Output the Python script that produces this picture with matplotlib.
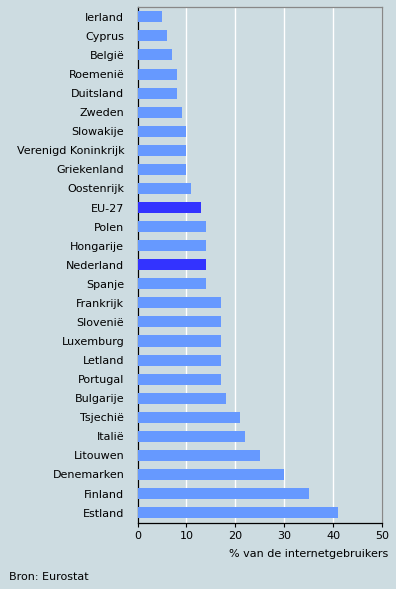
import matplotlib
matplotlib.use("Agg")
import matplotlib.pyplot as plt

# Internetgebruikers per land (% van de internetgebruikers)
landen = [
    "Ierland", "Cyprus", "België", "Roemenië", "Duitsland", "Zweden",
    "Slowakije", "Verenigd Koninkrijk", "Griekenland", "Oostenrijk", "EU-27",
    "Polen", "Hongarije", "Nederland", "Spanje", "Frankrijk", "Slovenië",
    "Luxemburg", "Letland", "Portugal", "Bulgarije", "Tsjechië", "Italië",
    "Litouwen", "Denemarken", "Finland", "Estland",
]
waarden = [5, 6, 7, 8, 8, 9, 10, 10, 10, 11, 13, 14, 14, 14, 14,
           17, 17, 17, 17, 17, 18, 21, 22, 25, 30, 35, 41]
uitgelicht = ["EU-27", "Nederland"]
x_ticks = [0, 10, 20, 30, 40, 50]

BG = "#CDDCE1"
BAR = "#6699FF"
BAR_HL = "#3333FF"
FS = 8.0

plt.rcParams["font.family"] = ["DejaVu Sans"]

fig = plt.figure(figsize=(3.96, 5.89), dpi=100)
fig.patch.set_facecolor(BG)
W, H = 396, 589
ax = fig.add_axes([137.5 / W, 1 - 522.7 / H, (382 - 137.5) / W, (522.7 - 7.3) / H])
ax.set_facecolor(BG)

kleuren = [BAR_HL if l in uitgelicht else BAR for l in landen]
ax.barh(range(len(landen)), waarden, height=0.58, color=kleuren, zorder=3)

ax.set_ylim(len(landen) - 0.47, -0.5)
ax.set_xlim(0, 50)
ax.set_yticks(range(len(landen)))
ax.set_yticklabels(landen, fontsize=FS)
ax.set_xticks(x_ticks)
ax.set_xticklabels([str(t) for t in x_ticks], fontsize=FS)

ax.tick_params(axis="y", length=0, pad=9.5)
ax.tick_params(axis="x", length=3, width=0.8, pad=3, direction="out")
ax.grid(axis="x", color="white", linewidth=1, zorder=1)

for s in ["left", "bottom"]:
    ax.spines[s].set_color("black")
    ax.spines[s].set_linewidth(0.9)
for s in ["top", "right"]:
    ax.spines[s].set_color("#888888")
    ax.spines[s].set_linewidth(0.9)

fig.text(388 / W, 1 - 554 / H, "% van de internetgebruikers",
         ha="right", va="center", fontsize=FS)
fig.text(9 / W, 1 - 577 / H, "Bron: Eurostat", ha="left", va="center", fontsize=FS)

fig.savefig("out.png", dpi=100, facecolor=BG)
